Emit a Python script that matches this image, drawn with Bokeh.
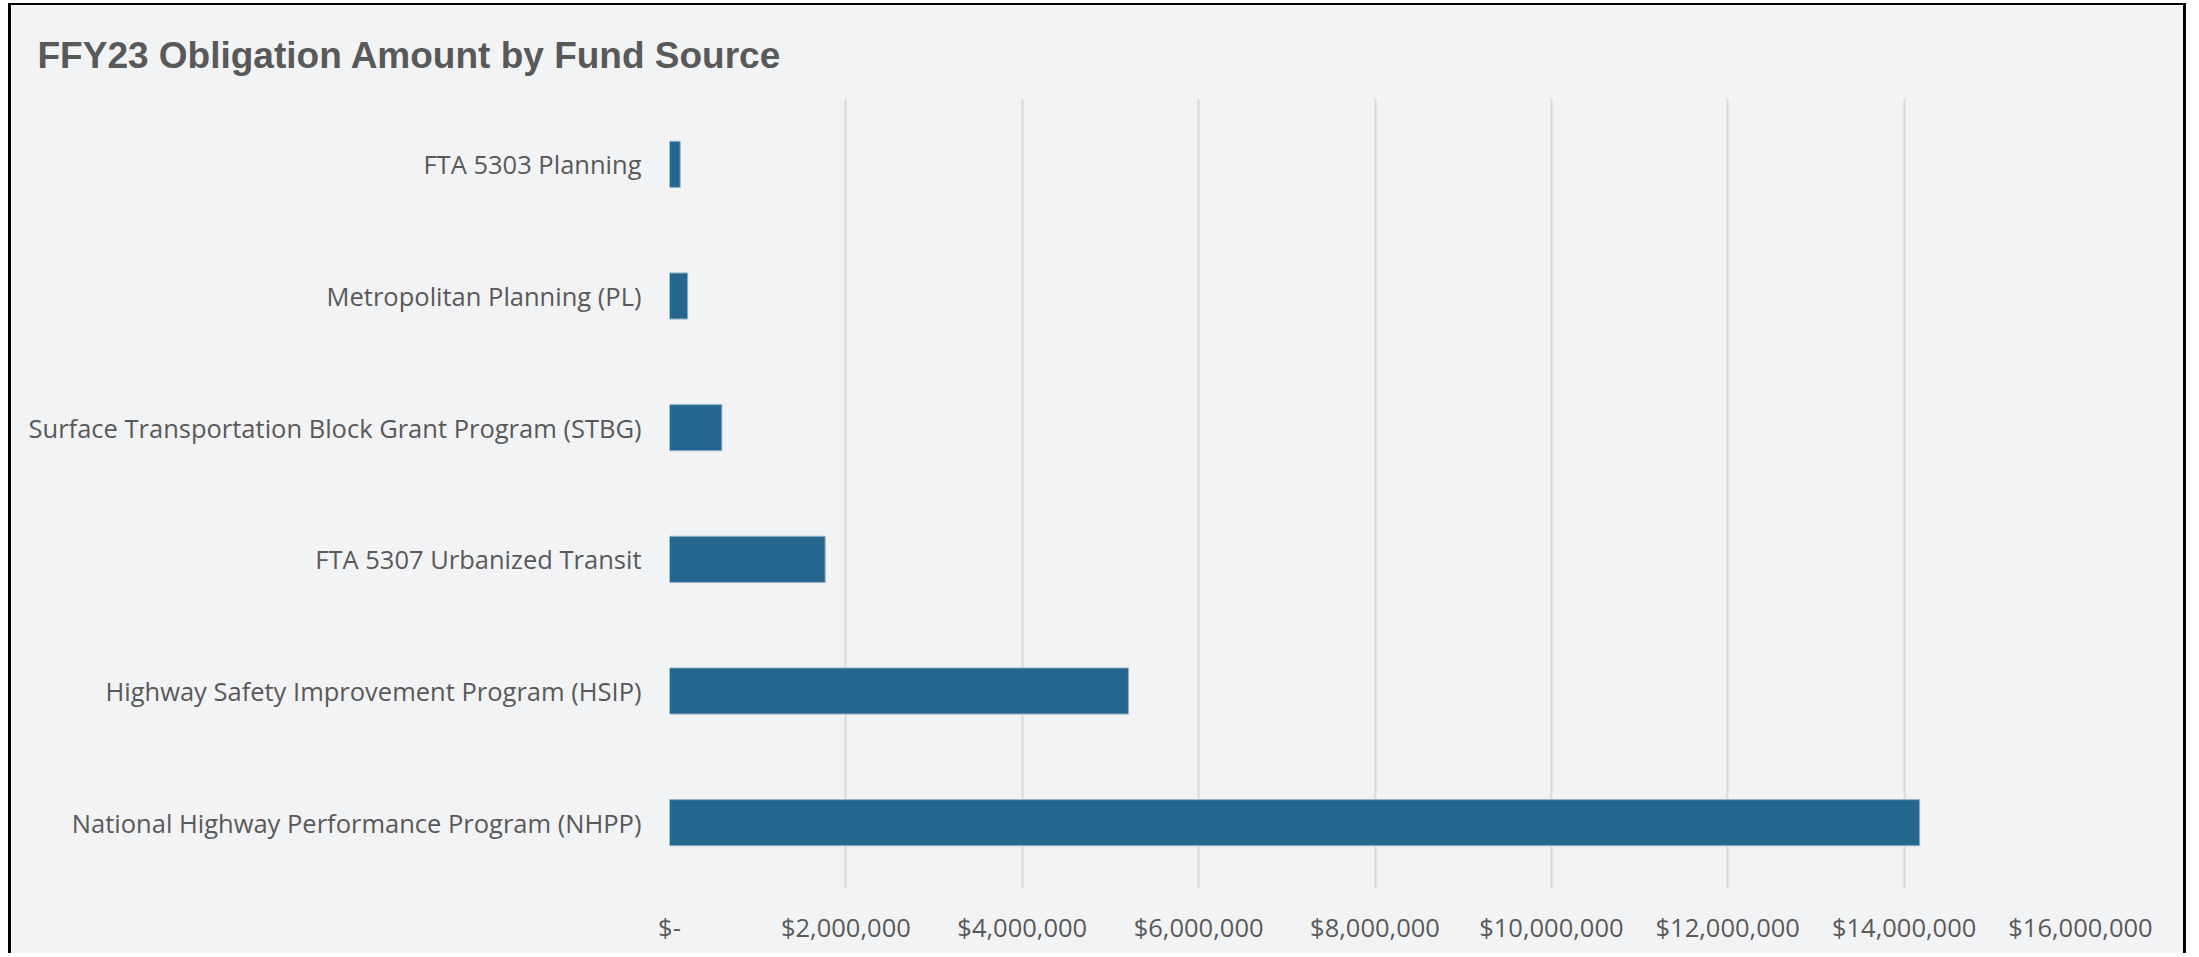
from bokeh.plotting import figure
from bokeh.models import ColumnDataSource, FactorRange, Range1d, FixedTicker
from bokeh.embed import file_html
from bokeh.resources import INLINE

title_text = "FFY23 Obligation Amount by Fund Source"
categories = [
    "FTA 5303 Planning",
    "Metropolitan Planning (PL)",
    "Surface Transportation Block Grant Program (STBG)",
    "FTA 5307 Urbanized Transit",
    "Highway Safety Improvement Program (HSIP)",
    "National Highway Performance Program (NHPP)",
]
amounts = [121000, 206000, 594000, 1765000, 5204000, 14176000]
tick_values = [0, 2000000, 4000000, 6000000, 8000000, 10000000, 12000000, 14000000, 16000000]
tick_labels = ["$-", "$2,000,000", "$4,000,000", "$6,000,000", "$8,000,000",
               "$10,000,000", "$12,000,000", "$14,000,000", "$16,000,000"]

BG = "#f2f3f5"
TXT = "#595959"
W, H = 2178, 950

source = ColumnDataSource(data=dict(cat=categories, amt=amounts))

p = figure(
    width=W, height=H,
    y_range=FactorRange(factors=list(reversed(categories)), range_padding=0),
    x_range=Range1d(tick_values[0], tick_values[-1]),
    output_backend="svg", toolbar_location=None,
    min_border_left=658, min_border_right=109,
    min_border_top=93, min_border_bottom=67,
)
# outer chart border: left/top/right edges (bottom edge lies outside the view, as in the reference)
p.styles = {
    "margin-left": "8px",
    "margin-top": "3px",
    "border-left": "3px solid #000000",
    "border-top": "2px solid #000000",
    "border-right": "3px solid #000000",
}
p.background_fill_color = BG
p.border_fill_color = BG
p.outline_line_color = None

p.hbar(y="cat", left=0, right="amt", height=0.35, source=source,
       fill_color="#25668f", line_color="#8fb0c8", line_width=1)

p.title.text = title_text
p.title.text_font = "Liberation Sans"
p.title.text_font_style = "bold"
p.title.text_font_size = "37px"
p.title.text_color = TXT
p.title.align = "left"
p.title.offset = -632
p.title.standoff = 46

p.xaxis.ticker = FixedTicker(ticks=tick_values)
p.xaxis.major_label_overrides = {v: l for v, l in zip(tick_values, tick_labels)}
for ax in (p.xaxis, p.yaxis):
    ax.axis_line_color = None
    ax.major_tick_line_color = None
    ax.minor_tick_line_color = None
    ax.major_label_text_font = "Open Sans"
    ax.major_label_text_font_size = "25.5px"
    ax.major_label_text_color = TXT
p.xaxis.major_label_standoff = 15
p.yaxis.major_label_standoff = 22

p.xgrid.grid_line_color = "#d9d9d9"
p.xgrid.grid_line_width = 2
p.ygrid.grid_line_color = None

open("out.html", "w").write(file_html(p, INLINE))
